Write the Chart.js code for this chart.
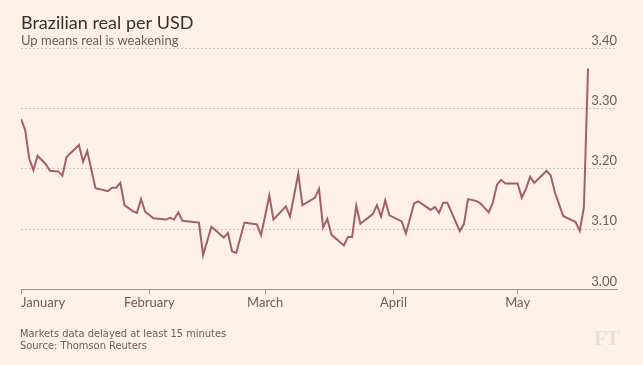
<!DOCTYPE html>
<html>
<head>
<meta charset="utf-8">
<script src="https://cdn.jsdelivr.net/npm/chart.js@4/dist/chart.umd.min.js"></script>
<style>
  html, body { margin: 0; padding: 0; background: #fff1e5; }
  #wrap { position: relative; width: 643px; height: 365px; }
  #note { position: absolute; left: 20px; top: 328px; font: 11px 'Liberation Sans Narrow', 'DejaVu Sans Condensed', sans-serif; color: #66605c; line-height: 12px; }
  #ft { position: absolute; left: 594px; top: 326px; font: bold 21px 'Liberation Serif', serif; color: #eadfd4; letter-spacing: -1px; }
</style>
</head>
<body>
<div id="wrap">
  <canvas id="myChart" width="643" height="365"></canvas>
  <div id="note">Markets data delayed at least 15 minutes<br>Source: Thomson Reuters</div>
  <div id="ft">FT</div>
</div>
<script>
const ctx = document.getElementById('myChart').getContext('2d');

// days since 1 January, and BRL per USD
let days = [0, 1, 2, 3, 4, 6, 7, 9, 10, 11, 14, 15, 16, 18, 21, 22, 23, 24, 25, 27,
  28, 29, 30, 32, 35, 36, 37, 38, 39, 43, 44, 46, 49, 50, 51, 52, 54, 55, 57, 58,
  60, 61, 64, 65, 67, 68, 71, 72, 73, 74, 75, 78, 79, 80, 81, 82, 85, 86, 87, 88,
  89, 92, 93, 95, 96, 99, 100, 101, 102, 103, 106, 107, 108, 110, 111, 113, 114, 115, 116, 117,
  120, 121, 122, 123, 124, 127, 128, 129, 131, 134, 135, 136, 137];
let rates = [3.283, 3.265, 3.217, 3.198, 3.222, 3.208, 3.197, 3.196, 3.189, 3.220, 3.240, 3.212, 3.230, 3.168, 3.163, 3.169, 3.169, 3.177, 3.140, 3.130,
  3.127, 3.150, 3.129, 3.118, 3.116, 3.119, 3.116, 3.128, 3.114, 3.111, 3.057, 3.104, 3.086, 3.094, 3.063, 3.061, 3.111, 3.110, 3.108, 3.090,
  3.156, 3.116, 3.138, 3.121, 3.192, 3.140, 3.152, 3.167, 3.103, 3.117, 3.091, 3.073, 3.087, 3.087, 3.139, 3.109, 3.125, 3.140, 3.121, 3.148,
  3.123, 3.113, 3.093, 3.143, 3.146, 3.132, 3.137, 3.127, 3.144, 3.144, 3.097, 3.108, 3.150, 3.147, 3.143, 3.128, 3.144, 3.174, 3.182, 3.176,
  3.176, 3.152, 3.167, 3.187, 3.177, 3.197, 3.189, 3.161, 3.122, 3.112, 3.097, 3.136, 3.367];
let monthStarts = [0, 31, 59, 90, 120];
let monthNames = ['January', 'February', 'March', 'April', 'May'];
let yTicks = [3.00, 3.10, 3.20, 3.30, 3.40];

const xMax = 144;
const grey = '#66605c';

const myChart = new Chart(ctx, {
    type: 'line',
    data: {
        datasets: [{
            label: 'BRL per USD',
            data: days.map((d, i) => ({ x: d, y: rates[i] })),
            borderColor: '#a35f67',
            borderWidth: 2,
            pointRadius: 0,
            tension: 0,
        }]
    },
    options: {
        responsive: false,
        animation: false,
        layout: { padding: { left: 21, right: 26, top: 0, bottom: 53 } },
        plugins: {
            legend: { display: false },
            tooltip: { enabled: false },
            title: {
                display: true,
                text: 'Brazilian real per USD',
                align: 'start',
                color: '#33302e',
                font: { family: 'Lato', size: 18, weight: 'normal', lineHeight: 1.0 },
                padding: { top: 14, bottom: 0 },
            },
            subtitle: {
                display: true,
                text: 'Up means real is weakening',
                align: 'start',
                color: grey,
                font: { family: 'Lato', size: 13 },
                padding: { top: 1, bottom: 0 },
            }
        },
        scales: {
            x: {
                type: 'linear',
                min: 0,
                max: xMax,
                afterBuildTicks: (scale) => {
                    scale.ticks = monthStarts.concat([xMax]).map(v => ({ value: v }));
                },
                ticks: {
                    align: 'inner',
                    autoSkip: false,
                    maxRotation: 0,
                    color: grey,
                    padding: 1,
                    font: { family: 'Lato', size: 13 },
                    callback: (v, i) => monthNames[i] || '',
                },
                grid: {
                    drawOnChartArea: false,
                    drawTicks: true,
                    tickLength: 5,
                    tickColor: (c) => c.index < monthStarts.length ? '#9e958c' : 'rgba(0,0,0,0)',
                    tickWidth: 1,
                },
                border: { display: true, color: '#9e958c', width: 1, z: 1 },
            },
            y: {
                position: 'right',
                min: 3.0,
                max: 3.4,
                afterBuildTicks: (scale) => {
                    scale.ticks = yTicks.map(v => ({ value: v }));
                },
                ticks: {
                    mirror: true,
                    padding: 0,
                    labelOffset: -8,
                    color: grey,
                    font: { family: 'Lato', size: 13 },
                    callback: (v) => v.toFixed(2),
                },
                grid: {
                    drawTicks: false,
                    color: '#cdc3b9',
                    lineWidth: 1,
                },
                border: { display: false, dash: [2, 2] },
            }
        }
    }
});
</script>
</body>
</html>
